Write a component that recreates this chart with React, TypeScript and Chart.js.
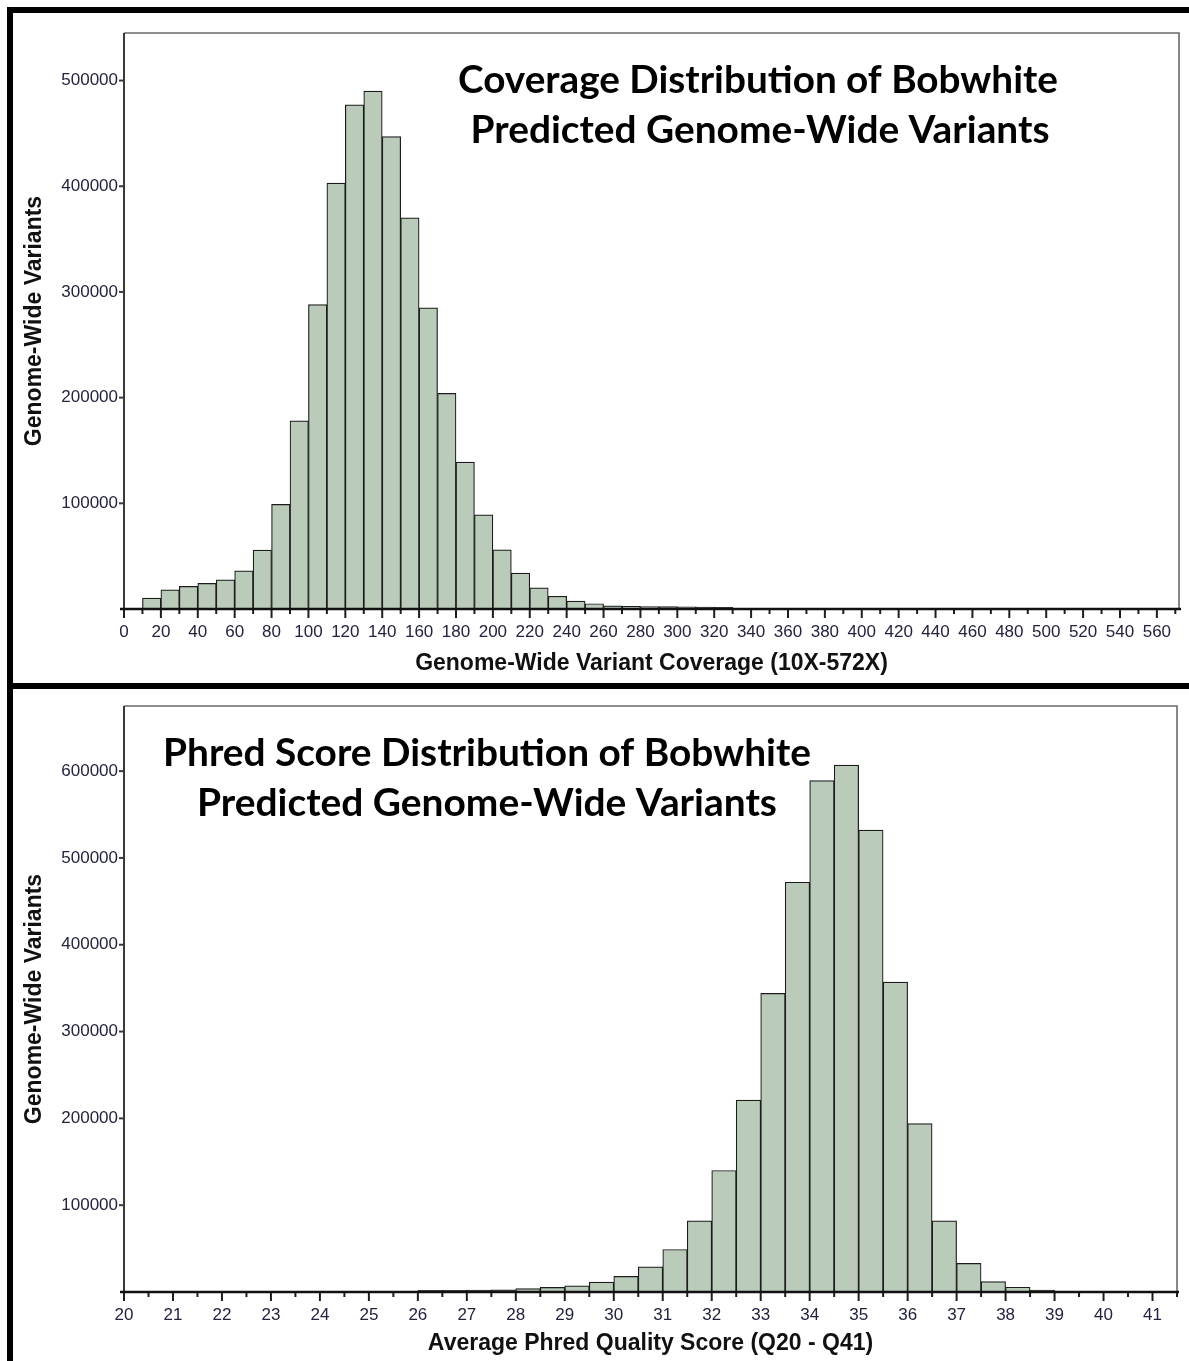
import React, { useEffect, useRef } from 'react';
import { Chart, registerables } from 'chart.js';

Chart.register(...registerables);

// ---------- Data ----------
const coverageBinWidth = 10;
const coverageBinStarts = [
  10, 20, 30, 40, 50, 60, 70, 80, 90, 100, 110, 120, 130, 140, 150, 160,
  170, 180, 190, 200, 210, 220, 230, 240, 250, 260, 270, 280, 290, 300, 310, 320,
];
const coverageCounts = [
  10400, 18200, 21400, 24200, 27600, 36100, 55700, 99000, 178000, 288000, 403000, 477000, 490000, 447000, 370000, 285000,
  204000, 139000, 89000, 56000, 34000, 20000, 12000, 7500, 5000, 3000, 2600, 2400, 2200, 2000, 1800, 1600,
];
const coverageYTicks = [100000, 200000, 300000, 400000, 500000];
const coverageTitle = ['Coverage Distribution of Bobwhite', 'Predicted Genome-Wide Variants'];
const coverageXLabel = 'Genome-Wide Variant Coverage (10X-572X)';

const phredBinWidth = 0.5;
const phredBinStarts = [
  26, 26.5, 27, 27.5, 28, 28.5, 29, 29.5, 30, 30.5, 31, 31.5, 32,
  32.5, 33, 33.5, 34, 34.5, 35, 35.5, 36, 36.5, 37, 37.5, 38, 38.5,
];
const phredCounts = [
  2000, 2000, 2200, 2400, 3800, 5300, 7000, 11500, 18000, 29000, 49000, 82000, 140000,
  221000, 344000, 472000, 589000, 607000, 532000, 357000, 194000, 82000, 33000, 12000, 5500, 2300,
];
const phredYTicks = [100000, 200000, 300000, 400000, 500000, 600000];
const phredTitle = ['Phred Score Distribution of Bobwhite', 'Predicted Genome-Wide Variants'];
const phredXLabel = 'Average Phred Quality Score (Q20 - Q41)';

const yLabel = 'Genome-Wide Variants';

// ---------- Plugin: frame, tick marks, in-plot title ----------
const histDecor = {
  id: 'histDecor',
  afterDraw(chart: any, _args: any, opts: any) {
    const { ctx, chartArea } = chart;
    const { left, right, top, bottom } = chartArea;
    const x = chart.scales.x;
    const y = chart.scales.y;
    ctx.save();
    const seg = (x1: number, y1: number, x2: number, y2: number) => {
      ctx.beginPath();
      ctx.moveTo(x1, y1);
      ctx.lineTo(x2, y2);
      ctx.stroke();
    };
    // top & right frame
    ctx.strokeStyle = '#6a6a6a';
    ctx.lineWidth = 1.6;
    ctx.beginPath();
    ctx.moveTo(left, top);
    ctx.lineTo(right, top);
    ctx.lineTo(right, bottom);
    ctx.stroke();
    // left axis
    ctx.strokeStyle = '#3a3a3a';
    ctx.lineWidth = 2;
    seg(left, top, left, bottom);
    // y tick marks
    for (const v of opts.yTicks) {
      const py = y.getPixelForValue(v);
      seg(left - 5, py, left, py);
    }
    // x tick marks (major + minor)
    ctx.strokeStyle = '#1e1e1e';
    ctx.lineWidth = 2;
    const n = Math.round((x.max - x.min) / opts.minorStep);
    for (let i = 0; i <= n; i++) {
      const v = x.min + i * opts.minorStep;
      const r = v / opts.majorStep;
      const major = Math.abs(r - Math.round(r)) < 1e-6;
      const px = x.getPixelForValue(v);
      seg(px, bottom, px, bottom + (major ? 9 : 5));
    }
    // bottom axis
    ctx.strokeStyle = '#111111';
    ctx.lineWidth = 2.6;
    seg(left - 4, bottom, right + 2, bottom);

    // in-plot title
    ctx.fillStyle = '#000000';
    ctx.textAlign = 'center';
    ctx.textBaseline = 'alphabetic';
    for (const line of opts.titleLines) {
      ctx.font = 'bold 40px Lato';
      const w = ctx.measureText(line.text).width;
      const size = (40 * line.width) / w;
      ctx.font = `bold ${size.toFixed(2)}px Lato`;
      ctx.fillText(line.text, line.cx, line.baseline);
    }
    ctx.restore();
  },
};

type PanelProps = {
  starts: number[];
  counts: number[];
  binWidth: number;
  xMin: number;
  xMax: number;
  yMax: number;
  minorStep: number;
  majorStep: number;
  yTicks: number[];
  xLabel: string;
  titleLines: { text: string; cx: number; baseline: number; width: number }[];
  width: number;
  height: number;
  padding: { top: number; right: number; bottom: number; left: number };
  yWidth: number;
  xHeight: number;
  style: React.CSSProperties;
};

function HistogramPanel(p: PanelProps) {
  const ref = useRef<HTMLCanvasElement | null>(null);
  useEffect(() => {
    if (!ref.current) return;
    const data = p.starts.map((s, i) => ({ x: s + p.binWidth / 2, y: p.counts[i] }));
    const tickFont = { family: "'Liberation Sans', Arial, sans-serif", size: 17 };
    const titleFont = { family: "'Liberation Sans', Arial, sans-serif", size: 23, weight: 'bold' as const };
    const chart = new Chart(ref.current, {
      type: 'bar',
      data: {
        datasets: [
          {
            data,
            backgroundColor: '#bbcbba',
            borderColor: '#1c1c1c',
            borderWidth: 1.2,
            barPercentage: 1,
            categoryPercentage: 1,
          },
        ],
      },
      options: {
        responsive: false,
        animation: false,
        devicePixelRatio: 1,
        layout: { padding: p.padding },
        plugins: {
          legend: { display: false },
          tooltip: { enabled: false },
          histDecor: {
            yTicks: p.yTicks,
            minorStep: p.minorStep,
            majorStep: p.majorStep,
            titleLines: p.titleLines,
          },
        } as any,
        scales: {
          x: {
            type: 'linear',
            min: p.xMin,
            max: p.xMax,
            offset: false,
            grid: { display: true, drawOnChartArea: false, color: 'rgba(0,0,0,0)', tickLength: 9 },
            border: { display: false },
            ticks: {
              stepSize: p.minorStep,
              includeBounds: false,
              autoSkip: false,
              maxRotation: 0,
              minRotation: 0,
              padding: 4,
              color: '#23233f',
              font: tickFont,
              callback: (v: any) => {
                const r = Number(v) / p.majorStep;
                return Math.abs(r - Math.round(r)) < 1e-6 ? String(Number(v)) : '';
              },
            },
            title: { display: true, text: p.xLabel, color: '#111', font: titleFont },
            afterFit: (s: any) => {
              s.height = p.xHeight;
            },
          },
          y: {
            type: 'linear',
            min: 0,
            max: p.yMax,
            grid: { display: true, drawOnChartArea: false, color: 'rgba(0,0,0,0)', tickLength: 5 },
            border: { display: false },
            ticks: {
              autoSkip: false,
              padding: 1,
              color: '#23233f',
              font: tickFont,
              callback: (v: any) => String(v),
            },
            afterBuildTicks: (s: any) => {
              s.ticks = p.yTicks.map((v) => ({ value: v }));
            },
            title: { display: true, text: yLabel, color: '#111', font: titleFont },
            afterFit: (s: any) => {
              s.width = p.yWidth;
            },
          },
        },
      },
      plugins: [histDecor],
    });
    return () => chart.destroy();
  }, []);
  return <canvas ref={ref} width={p.width} height={p.height} style={{ ...p.style, display: 'block' }} />;
}

export default function App() {
  const bar = (s: React.CSSProperties): React.CSSProperties => ({ position: 'absolute', background: '#000', ...s });
  return (
    <div style={{ position: 'absolute', left: 0, top: 0, width: 1189, height: 1361, background: '#fff', overflow: 'hidden' }}>
      <HistogramPanel
        starts={coverageBinStarts}
        counts={coverageCounts}
        binWidth={coverageBinWidth}
        xMin={0}
        xMax={572}
        yMax={545000}
        minorStep={10}
        majorStep={20}
        yTicks={coverageYTicks}
        xLabel={coverageXLabel}
        titleLines={[
          { text: coverageTitle[0], cx: 745, baseline: 80, width: 600 },
          { text: coverageTitle[1], cx: 747, baseline: 130, width: 579 },
        ]}
        width={1176}
        height={670}
        padding={{ top: 20, right: 10, bottom: 2, left: 4 }}
        yWidth={107}
        xHeight={72}
        style={{ position: 'absolute', left: 13, top: 13 }}
      />
      <HistogramPanel
        starts={phredBinStarts}
        counts={phredCounts}
        binWidth={phredBinWidth}
        xMin={20}
        xMax={41.5}
        yMax={675000}
        minorStep={0.5}
        majorStep={1}
        yTicks={phredYTicks}
        xLabel={phredXLabel}
        titleLines={[
          { text: phredTitle[0], cx: 474, baseline: 77, width: 648 },
          { text: phredTitle[1], cx: 474, baseline: 127, width: 580 },
        ]}
        width={1176}
        height={672}
        padding={{ top: 17, right: 12, bottom: 0, left: 4 }}
        yWidth={107}
        xHeight={69}
        style={{ position: 'absolute', left: 13, top: 689 }}
      />
      <div style={bar({ left: 7, top: 7, width: 1182, height: 6 })} />
      <div style={bar({ left: 7, top: 7, width: 6, height: 1354 })} />
      <div style={bar({ left: 7, top: 683, width: 1182, height: 6 })} />
    </div>
  );
}
